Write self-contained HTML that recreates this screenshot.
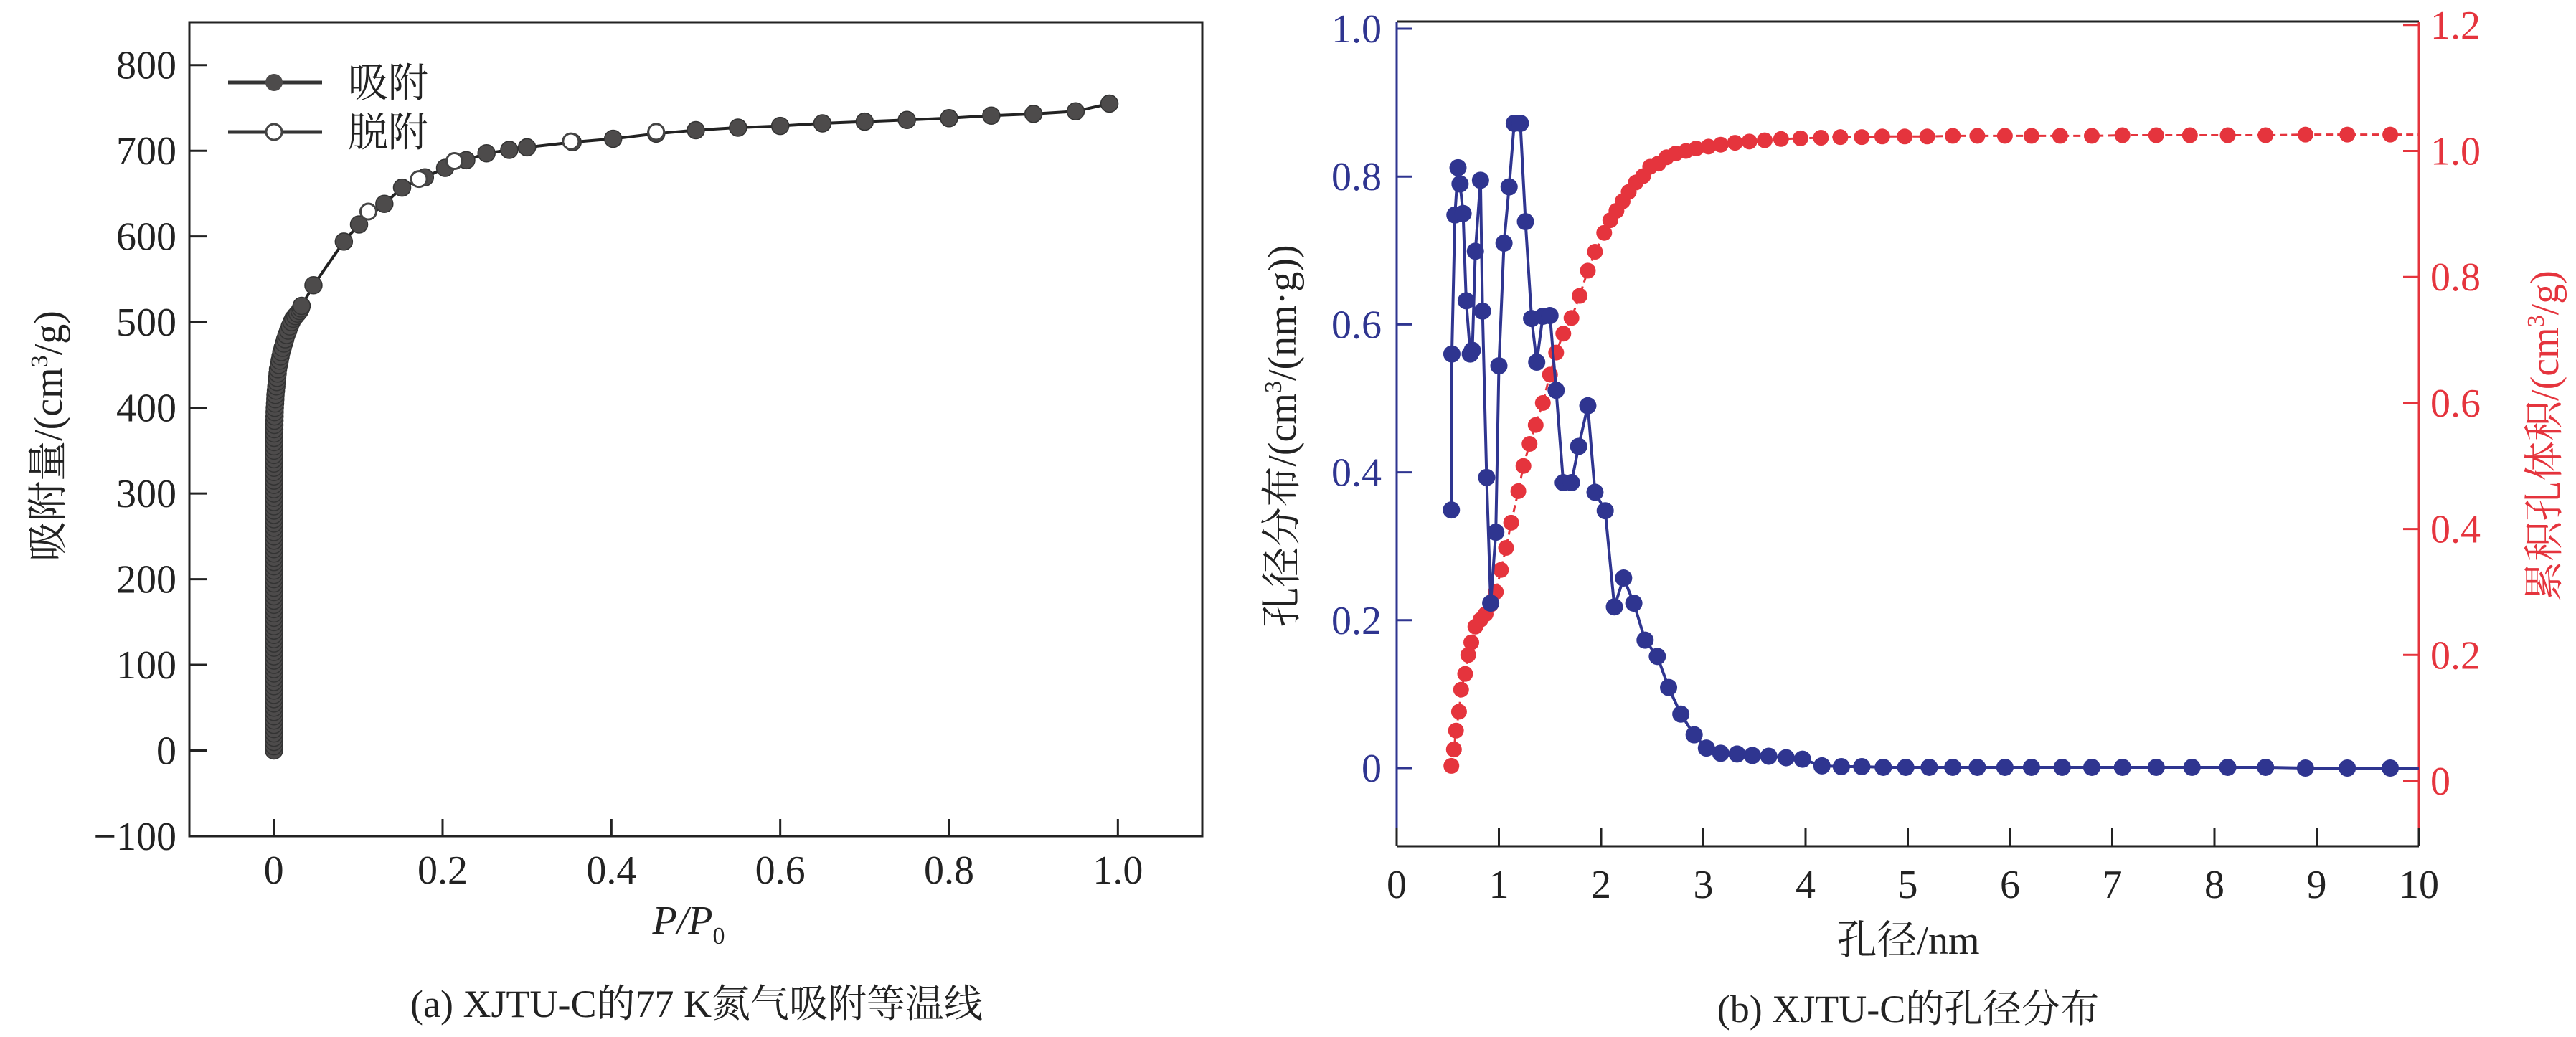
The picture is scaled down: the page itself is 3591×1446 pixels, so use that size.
<!DOCTYPE html>
<html><head><meta charset="utf-8"><style>
html,body{margin:0;padding:0;background:#fff;}
svg{display:block;}
text{font-family:"Liberation Serif","Noto Serif CJK SC",serif;}
</style></head><body>
<svg id="chart" width="3591" height="1446" viewBox="0 0 3591 1446" xmlns="http://www.w3.org/2000/svg">
<rect x="0" y="0" width="3591" height="1446" fill="#fff"/>
<g id="pa"></g>
<g id="pb"></g>
</svg>
<script>
// Panel (a) data
const adsX = [
0.0002,0.0002,0.0002,0.0002,0.0002,0.0002,0.0002,0.0002,0.0002,0.0002,
0.0002,0.0002,0.0002,0.0002,0.0002,0.0002,0.0002,0.0002,0.0002,0.0002,
0.0002,0.0002,0.0002,0.0002,0.0002,0.0002,0.0002,0.0002,0.0002,0.0002,
0.0002,0.0002,0.0002,0.0002,0.0002,0.0002,0.0002,0.0002,0.0002,0.0002,
0.0002,0.0002,0.0002,0.0002,0.0002,0.0002,0.0002,0.0002,0.0002,0.0002,
0.0002,0.0002,0.0002,0.0002,0.0002,0.0002,0.0002,0.0002,0.0002,0.0002,
0.0002,0.0002,0.0002,0.0002,0.0002,0.0002,0.0002,0.0002,0.0002,0.0002,
0.0003,0.0003,0.0004,0.0004,0.0005,0.0006,0.0007,0.0008,0.0009,0.001,0.0012,
0.0015,0.0018,0.002,0.0025,0.003,0.0035,0.004,0.0045,0.005,0.006,
0.007,0.008,0.009,0.0105,0.012,0.0135,0.015,0.017,0.019,0.021,
0.023,0.0255,0.028,0.0305,0.032,0.033,
0.047,0.083,0.101,0.131,0.152,0.179,0.203,0.228,0.252,0.279,0.300,0.354,0.402,0.453,0.50,0.55,0.60,0.65,0.70,0.75,0.80,0.85,0.90,0.95,0.99];
const adsY = [
0,5,10,15,20,25,30,35,40,45,
50,55,60,65,70,75,80,85,90,95,
100,105,110,115,120,125,130,135,140,145,
150,155,160,165,170,175,180,185,190,195,
200,205,210,215,220,225,230,235,240,245,
250,255,260,265,270,275,280,285,290,295,
300,305,310,315,320,325,330,335,340,345,
350,355,360,365,370,375,380,385,390,395,400,
405,410,415,420,425,430,435,440,445,450,
455,460,465,470,475,480,485,490,495,500,
504,507,510,513,516,519,
543,594,614,638,657,669,680,689,697,701,704,710,714,720,724,727,729,732,734,736,738,741,743,746,755];
const desX = [0.112,0.172,0.214,0.352,0.453];
const desY = [629,667,688,711,722];
const aXTicks = [0,0.2,0.4,0.6,0.8,1.0];
const aXLabels = ["0","0.2","0.4","0.6","0.8","1.0"];
const aYTicks = [-100,0,100,200,300,400,500,600,700,800];
const aYLabels = ["\u2212100","0","100","200","300","400","500","600","700","800"];
// Panel (b) data
const psdX = [0.535,0.54,0.57,0.60,0.62,0.65,0.68,0.72,0.74,0.77,0.82,0.84,0.88,0.92,0.97,1.0,1.05,1.10,1.15,1.21,1.26,1.32,1.37,1.43,1.50,1.56,1.63,1.71,1.78,1.87,1.94,2.04,2.13,2.22,2.32,2.43,2.55,2.66,2.78,2.91,3.03,3.17,3.33,3.48,3.64,3.81,3.97,4.16,4.35,4.55,4.76,4.98,5.21,5.44,5.68,5.95,6.21,6.51,6.80,7.10,7.43,7.78,8.13,8.50,8.89,9.30,9.72];
const psdY = [0.349,0.56,0.748,0.812,0.79,0.75,0.632,0.56,0.565,0.699,0.795,0.618,0.393,0.223,0.319,0.544,0.71,0.786,0.872,0.872,0.739,0.608,0.549,0.611,0.612,0.511,0.386,0.386,0.435,0.49,0.373,0.348,0.218,0.257,0.223,0.173,0.151,0.109,0.073,0.045,0.027,0.02,0.019,0.017,0.016,0.014,0.012,0.003,0.002,0.002,0.001,0.001,0.001,0.001,0.001,0.001,0.001,0.001,0.001,0.001,0.001,0.001,0.001,0.001,0.0,0.0,0.0];
const cumX = [0.535,0.56,0.58,0.61,0.63,0.67,0.70,0.73,0.77,0.82,0.87,0.92,0.97,1.02,1.07,1.12,1.19,1.24,1.30,1.36,1.43,1.50,1.56,1.63,1.71,1.79,1.87,1.94,2.03,2.09,2.15,2.21,2.27,2.34,2.41,2.48,2.56,2.64,2.73,2.83,2.93,3.05,3.17,3.31,3.45,3.60,3.76,3.95,4.15,4.34,4.55,4.75,4.97,5.19,5.44,5.68,5.95,6.21,6.49,6.80,7.10,7.43,7.76,8.13,8.50,8.89,9.30,9.72];
const cumY = [0.024,0.05,0.08,0.11,0.145,0.17,0.2,0.22,0.245,0.256,0.265,0.28,0.30,0.335,0.37,0.41,0.46,0.50,0.535,0.565,0.60,0.645,0.68,0.71,0.735,0.77,0.81,0.84,0.87,0.89,0.905,0.92,0.935,0.95,0.96,0.975,0.98,0.99,0.996,1.0,1.004,1.007,1.01,1.013,1.015,1.017,1.019,1.02,1.021,1.022,1.022,1.023,1.023,1.023,1.024,1.024,1.024,1.024,1.024,1.024,1.025,1.025,1.025,1.025,1.025,1.026,1.026,1.026];
const bXTicks = [0,1,2,3,4,5,6,7,8,9,10];
const bXLabels = ["0","1","2","3","4","5","6","7","8","9","10"];
const bYTicks = [0,0.2,0.4,0.6,0.8,1.0];
const bYLabels = ["0","0.2","0.4","0.6","0.8","1.0"];
const bY2Ticks = [0,0.2,0.4,0.6,0.8,1.0,1.2];
const bY2Labels = ["0","0.2","0.4","0.6","0.8","1.0","1.2"];

const NS = "http://www.w3.org/2000/svg";
function mk(parent, tag, attrs, txt){
  const e = document.createElementNS(NS, tag);
  for (const k in attrs) e.setAttribute(k, attrs[k]);
  if (txt !== undefined) e.textContent = txt;
  parent.appendChild(e);
  return e;
}
const BLUE = "#2f3590", RED = "#e5343d";

// ---------- Panel a ----------
const pa = document.getElementById("pa");
const aL=264,aR=1676,aT=31,aB=1166;
const ax = v => aL + (v+0.1)/1.2*(aR-aL);
const ay = v => aB - (v+100)/950*(aB-aT);
let fr = mk(pa,"rect",{x:aL,y:aT,width:aR-aL,height:aB-aT,fill:"none",stroke:"#222","stroke-width":3});


aXTicks.forEach((t,i)=>{
  const l = mk(pa,"line",{x1:ax(t),x2:ax(t),y1:aB,y2:aB-24,stroke:"#222","stroke-width":3});
  
  
  const tx = mk(pa,"text",{x:ax(t),y:1232,"font-size":56,"text-anchor":"middle",fill:"#222"},aXLabels[i]);
  
  
});
aYTicks.forEach((t,i)=>{
  const l = mk(pa,"line",{x1:aL,x2:aL+24,y1:ay(t),y2:ay(t),stroke:"#222","stroke-width":3});
  
  
  const tx = mk(pa,"text",{x:246,y:ay(t)+19,"font-size":56,"text-anchor":"end",fill:"#222"},aYLabels[i]);
  
  
});
const n = Math.min(adsX.length, adsY.length);
let pts = adsX.slice(0,n).map((x,i)=>ax(x)+","+ay(adsY[i])).join(" ");
let pl = mk(pa,"polyline",{points:pts,fill:"none",stroke:"#222","stroke-width":4});


adsX.slice(0,n).forEach((x,i)=>{
  const c = mk(pa,"circle",{cx:ax(x),cy:ay(adsY[i]),r:12,fill:"#4d4b4b",stroke:"#333","stroke-width":1.5});
  
  
});
desX.forEach((x,i)=>{
  const c = mk(pa,"circle",{cx:ax(x),cy:ay(desY[i]),r:11,fill:"#fff",stroke:"#444","stroke-width":3});
  
  
});
// legend
const lg = mk(pa,"g",{});


mk(lg,"line",{x1:318,x2:449,y1:115,y2:115,stroke:"#333","stroke-width":5});
mk(lg,"circle",{cx:382,cy:115,r:12,fill:"#4d4b4b"});
const t1 = mk(lg,"text",{x:485,y:135,"font-size":56,fill:"#222"},"吸附");


mk(lg,"line",{x1:318,x2:449,y1:184,y2:184,stroke:"#333","stroke-width":5});
mk(lg,"circle",{cx:382,cy:184,r:11,fill:"#fff",stroke:"#444","stroke-width":3});
const t2 = mk(lg,"text",{x:485,y:204,"font-size":56,fill:"#222"},"脱附");


let yt = mk(pa,"text",{x:0,y:0,"font-size":56,"text-anchor":"middle",fill:"#222",transform:"translate(86,608) rotate(-90)"});


yt.innerHTML = '吸附量/(cm<tspan font-size="34" dy="-20">3</tspan><tspan dy="20">/g)</tspan>';
let xt = mk(pa,"text",{x:960,y:1302,"font-size":56,"text-anchor":"middle",fill:"#222","font-style":"italic"});


xt.innerHTML = 'P/P<tspan font-size="34" dy="14" font-style="normal">0</tspan>';
let ca = mk(pa,"text",{x:971,y:1418,"font-size":54,"text-anchor":"middle",fill:"#222"},"(a) XJTU-C的77 K氮气吸附等温线");



// ---------- Panel b ----------
const pb = document.getElementById("pb");
const bL=1947,bR=3372,bT=30,bB=1180;
const bx = v => bL + v/10*(bR-bL);
const by = v => 1071 - v/0.2*206.2;
const by2 = v => 1089 - v/0.2*175.7;
mk(pb,"line",{x1:bL,x2:bR,y1:bT,y2:bT,stroke:"#222","stroke-width":3});
mk(pb,"line",{x1:bL,x2:bR,y1:bB,y2:bB,stroke:"#222","stroke-width":3});
let la = mk(pb,"line",{x1:bL,x2:bL,y1:bT,y2:bB,stroke:BLUE,"stroke-width":3});


let ra = mk(pb,"line",{x1:bR,x2:bR,y1:bT,y2:bB,stroke:RED,"stroke-width":3});


bXTicks.forEach((t,i)=>{
  const l = mk(pb,"line",{x1:bx(t),x2:bx(t),y1:bB,y2:bB-26,stroke:"#222","stroke-width":3});
  
  
  const tx = mk(pb,"text",{x:bx(t),y:1252,"font-size":56,"text-anchor":"middle",fill:"#222"},bXLabels[i]);
  
  
});
bYTicks.forEach((t,i)=>{
  const l = mk(pb,"line",{x1:bL,x2:bL+22,y1:by(t),y2:by(t),stroke:BLUE,"stroke-width":3});
  
  
  const tx = mk(pb,"text",{x:1926,y:by(t)+19,"font-size":56,"text-anchor":"end",fill:BLUE},bYLabels[i]);
  
  
});
bY2Ticks.forEach((t,i)=>{
  const l = mk(pb,"line",{x1:bR,x2:bR-22,y1:by2(t),y2:by2(t),stroke:RED,"stroke-width":3});
  
  
  const tx = mk(pb,"text",{x:3388,y:by2(t)+19,"font-size":56,"text-anchor":"start",fill:RED},bY2Labels[i]);
  
  
});
let cpts = cumX.map((x,i)=>bx(x)+","+by2(cumY[i])).join(" ") + " " + bx(10)+","+by2(cumY[cumY.length-1]);
let cl = mk(pb,"polyline",{points:cpts,fill:"none",stroke:RED,"stroke-width":3,"stroke-dasharray":"10 6"});


cumX.forEach((x,i)=>{
  const c = mk(pb,"circle",{cx:bx(x),cy:by2(cumY[i]),r:11,fill:RED});
  
  
});
let ppts = psdX.map((x,i)=>bx(x)+","+by(psdY[i])).join(" ") + " " + bx(10)+","+by(0);
let bl = mk(pb,"polyline",{points:ppts,fill:"none",stroke:BLUE,"stroke-width":4});


psdX.forEach((x,i)=>{
  const c = mk(pb,"circle",{cx:bx(x),cy:by(psdY[i]),r:12,fill:BLUE});
  
  
});
let ly = mk(pb,"text",{x:0,y:0,"font-size":56,"text-anchor":"middle",fill:"#222",transform:"translate(1806,608) rotate(-90)"});


ly.innerHTML = '孔径分布/(cm<tspan font-size="34" dy="-20">3</tspan><tspan dy="20">/(nm·g))</tspan>';
let ry = mk(pb,"text",{x:0,y:0,"font-size":56,"text-anchor":"middle",fill:RED,transform:"translate(3566,608) rotate(-90)"});


ry.innerHTML = '累积孔体积/(cm<tspan font-size="34" dy="-20">3</tspan><tspan dy="20">/g)</tspan>';
let bxt = mk(pb,"text",{x:2660,y:1330,"font-size":56,"text-anchor":"middle",fill:"#222"},"孔径/nm");


let cb = mk(pb,"text",{x:2660,y:1425,"font-size":54,"text-anchor":"middle",fill:"#222"},"(b) XJTU-C的孔径分布");


</script>
</body></html>
